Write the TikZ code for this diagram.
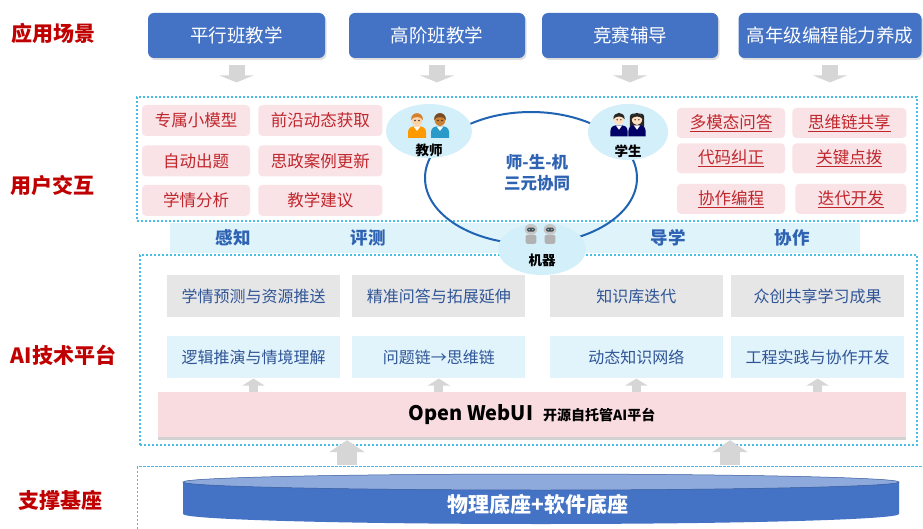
\documentclass[tikz,border=0pt]{standalone}
\usepackage{fontspec}
\setmainfont{Noto Sans CJK SC}
\usetikzlibrary{arrows.meta, positioning, shapes.geometric, shadows}

\definecolor{sceneblue}{HTML}{4472C4}
\definecolor{layerred}{HTML}{C00000}
\definecolor{zonecyan}{HTML}{48BDE6}
\definecolor{bandblue}{HTML}{DFF3FB}
\definecolor{bubblecyan}{HTML}{D3EFFA}
\definecolor{ringblue}{HTML}{1F63B3}
\definecolor{textblue}{HTML}{2E62B2}
\definecolor{taskpink}{HTML}{FAE3E6}
\definecolor{taskred}{HTML}{C0272D}
\definecolor{modgray}{HTML}{E6E6E6}
\definecolor{modblue}{HTML}{2F5597}
\definecolor{capblue}{HTML}{E1F3FB}
\definecolor{arrowgray}{HTML}{D6D6D6}
\definecolor{webuipink}{HTML}{F9DCE0}
\definecolor{disktop}{HTML}{8EA9DB}

\tikzset{
  pics/person/.style n args={4}{code={
    % shirt and collar
    \fill[#1] (-9,12) -- (-9,6) .. controls (-9,1.5) and (-5,0) .. (0,0)
      .. controls (5,0) and (9,1.5) .. (9,6) -- (9,12) -- cycle;
    \fill[#4] (-3.5,0.3) -- (0,5) -- (3.5,0.3) -- cycle;
    % face and hair
    \fill[#2] (0,-6.5) ellipse [x radius=5.5, y radius=6.5];
    \fill[#3] (-5.9,-6) .. controls (-6.5,-15) and (6.5,-15) .. (5.9,-6)
      .. controls (4,-10) and (-4,-10) .. (-5.9,-6) -- cycle;
    \fill[black!80] (-2,-5.5) circle (0.8) (2,-5.5) circle (0.8);
  }},
  pics/longhair/.style={code={
    \fill[black!85, rounded corners=3pt] (-7.5,-12) rectangle (7.5,5);
  }},
  pics/robot/.style={code={
    \fill[gray!60, rounded corners=2pt] (-6,12) rectangle (6,2);
    \fill[gray!45] (0,-4) ellipse [x radius=7, y radius=6];
    \fill[black!70, rounded corners=1.5pt] (-4.5,-6) rectangle (4.5,-1.5);
    \fill[cyan!60] (-2,-3.8) circle (0.9) (2,-3.8) circle (0.9);
  }}
}

\begin{document}
\begin{tikzpicture}[x=1pt, y=-1pt,
    layer/.style  = {font=\fontsize{21}{24}\selectfont\bfseries, text=layerred},
    scene/.style  = {rectangle, rounded corners=6pt, fill=sceneblue, text=white,
                     minimum height=45, inner sep=0pt,
                     font=\fontsize{18.5}{22}\selectfont,
                     drop shadow={opacity=0.25, shadow xshift=1.5pt, shadow yshift=-2pt}},
    zone/.style   = {rectangle, draw=zonecyan, line width=1.2pt,
                     dash pattern=on 2.4pt off 1.6pt, inner sep=0pt},
    task/.style   = {rectangle, rounded corners=4pt, fill=taskpink, text=taskred,
                     minimum height=31, inner sep=0pt,
                     font=\fontsize{16.5}{20}\selectfont},
    bubble/.style = {ellipse, fill=bubblecyan, inner sep=0pt},
    who/.style    = {font=\fontsize{13.5}{16}\selectfont\bfseries, text=black},
    mode/.style   = {font=\fontsize{17.5}{20}\selectfont\bfseries, text=textblue},
    module/.style = {rectangle, fill=modgray, text=modblue, minimum width=173,
                     minimum height=42, inner sep=0pt,
                     font=\fontsize{16}{19}\selectfont},
    ability/.style= {module, fill=capblue},
    downarr/.style= {-{Triangle[width=34pt,length=7pt]}, line width=16pt, arrowgray},
    smallup/.style= {-{Triangle[width=22pt,length=7pt]}, line width=9pt, arrowgray},
    bigup/.style  = {-{Triangle[width=35pt,length=12pt]}, line width=20pt, arrowgray},
]
\useasboundingbox[fill=white] (0,0) rectangle (923,529);

%% ---- Layer titles ----
\node[layer] (lscene) at (53.5,33)  {应用场景};
\node[layer] (luser)  at (52.5,185) {用户交互};
\node[layer] (lai)    at (63.5,355) {AI技术平台};
\node[layer] (lbase)  at (60,500)   {支撑基座};

%% ---- Scenarios ----
\node[scene, minimum width=177] (s1) at (236.5,35.5) {平行班教学};
\node[scene, minimum width=176] (s2) at (437,35.5)   {高阶班教学};
\node[scene, minimum width=176] (s3) at (630,35.5)   {竞赛辅导};
\node[scene, minimum width=183] (s4) at (830,35.5)   {高年级编程能力养成};

%% ---- Zones and band ----
\node[zone, minimum width=780, minimum height=124] (ui) at (527,159) {};
\node[zone, minimum width=777, minimum height=190] (ai) at (528.5,350) {};
\node[zone, minimum width=800, minimum height=100, anchor=north west]
    (basezone) at (137,466) {};
\node[fill=bandblue, minimum width=690, minimum height=30, inner sep=0pt]
    (band) at (515,238) {};

\draw[downarr, shorten <=7pt, shorten >=14pt] (s1.south) -- (s1.south |- ui.north);
\draw[downarr, shorten <=7pt, shorten >=14pt] (s2.south) -- (s2.south |- ui.north);
\draw[downarr, shorten <=7pt, shorten >=14pt] (s3.south) -- (s3.south |- ui.north);
\draw[downarr, shorten <=7pt, shorten >=14pt] (s4.south) -- (s4.south |- ui.north);

%% ---- Teacher side tasks ----
\node[task, minimum width=108] (t1) at (196,120.5) {专属小模型};
\node[task, minimum width=124, right=8pt of t1] (t2) {前沿动态获取};
\node[task, minimum width=108, below=9pt of t1] (t3) {自动出题};
\node[task, minimum width=124, right=8pt of t3] (t4) {思政案例更新};
\node[task, minimum width=108, below=8pt of t3] (t5) {学情分析};
\node[task, minimum width=124, right=8pt of t5] (t6) {教学建议};

%% ---- Student side tasks ----
\node[task, minimum width=108, minimum height=30] (u1) at (731,123) {\underline{多模态问答}};
\node[task, minimum width=114, minimum height=30, right=7pt of u1] (u2) {\underline{思维链共享}};
\node[task, minimum width=108, minimum height=30, below=5pt of u1] (u3) {\underline{代码纠正}};
\node[task, minimum width=114, minimum height=30, right=7pt of u3] (u4) {\underline{关键点拨}};
\node[task, minimum width=108, minimum height=30, below=10pt of u3] (u5) {\underline{协作编程}};
\node[task, minimum width=111, minimum height=30, right=10pt of u5] (u6) {\underline{迭代开发}};

%% ---- Teacher-student-machine loop ----
\node[ellipse, draw=ringblue, line width=2pt, minimum width=212, minimum height=132]
    (triad) at (531,178) {};
\node[font=\fontsize{16.5}{21}\selectfont\bfseries, text=textblue, align=center]
    (triadtext) at (537,173) {师-生-机\\三元协同};

\node[bubble, minimum width=86, minimum height=54] (teacher) at (429,131) {};
\node[bubble, minimum width=80, minimum height=56] (student) at (628,132) {};
\node[bubble, minimum width=88, minimum height=52] (machine) at (542,249) {};

\pic[scale=1.0] at (417,126) {person={orange!80!yellow}{orange!35!white}{brown!70!orange}{white}};
\pic[scale=1.0] at (440,126) {person={cyan!60!teal}{brown!80!orange}{brown!60!black}{white}};
\pic[scale=0.95] at (637,125) {longhair};
\pic[scale=0.95] at (619,125) {person={blue!40!black}{orange!25!white}{black!85}{white}};
\pic[scale=0.95] at (637,125) {person={blue!40!black}{orange!25!white}{black!85}{white}};
\pic[scale=0.9] at (531,233) {robot};
\pic[scale=0.9] at (550,233) {robot};

\node[who] (teacherlbl) at (429,150) {教师};
\node[who] (studentlbl) at (628,151) {学生};
\node[who] (machinelbl) at (542,260) {机器};

%% ---- Interaction modes ----
\node[mode] (m1) at (233,238) {感知};
\node[mode] (m2) at (368,238) {评测};
\node[mode] (m3) at (668,238) {导学};
\node[mode] (m4) at (792,238) {协作};

%% ---- AI platform modules ----
\node[module] (g1) at (253.5,296) {学情预测与资源推送};
\node[module, right=12pt of g1] (g2) {精准问答与拓展延伸};
\node[module, right=24pt of g2] (g3) {知识库迭代};
\node[module, right=8pt of g3]  (g4) {众创共享学习成果};

\node[ability, below=19pt of g1] (c1) {逻辑推演与情境理解};
\node[ability, below=19pt of g2] (c2) {问题链→思维链};
\node[ability, below=19pt of g3] (c3) {动态知识网络};
\node[ability, below=19pt of g4] (c4) {工程实践与协作开发};

\node[fill=webuipink, minimum width=748, minimum height=45, inner sep=0pt,
      font=\bfseries,
      drop shadow={opacity=0.35, shadow xshift=0pt, shadow yshift=-2.5pt}]
    (webui) at (532,414.5)
    {{\fontsize{20}{24}\selectfont Open WebUI}\quad{\fontsize{14}{16}\selectfont 开源自托管AI平台}};

\draw[smallup] (c1.south |- webui.north) -- (c1.south);
\draw[smallup] (c2.south |- webui.north) -- (c2.south);
\draw[smallup] (c3.south |- webui.north) -- (c3.south);
\draw[smallup] (c4.south |- webui.north) -- (c4.south);

%% ---- Base ----
\fill[sceneblue] (183,482) -- (183,514) arc[start angle=180, end angle=0, x radius=358, y radius=10]
    -- (899,482) -- cycle;
\node[ellipse, fill=disktop, draw=sceneblue!80!black, line width=0.5pt,
      minimum width=716, minimum height=16, inner sep=0pt] (disk) at (541,482) {};
\node[font=\fontsize{21}{24}\selectfont\bfseries, text=white] (base) at (538,504)
    {物理底座+软件底座};

\draw[bigup, shorten <=9pt, shorten >=3pt]
    ([xshift=-194pt]disk.north) -- ([xshift=-194pt]disk.north |- webui.south);
\draw[bigup, shorten <=9pt, shorten >=3pt]
    ([xshift=189pt]disk.north) -- ([xshift=189pt]disk.north |- webui.south);

\end{tikzpicture}
\end{document}
